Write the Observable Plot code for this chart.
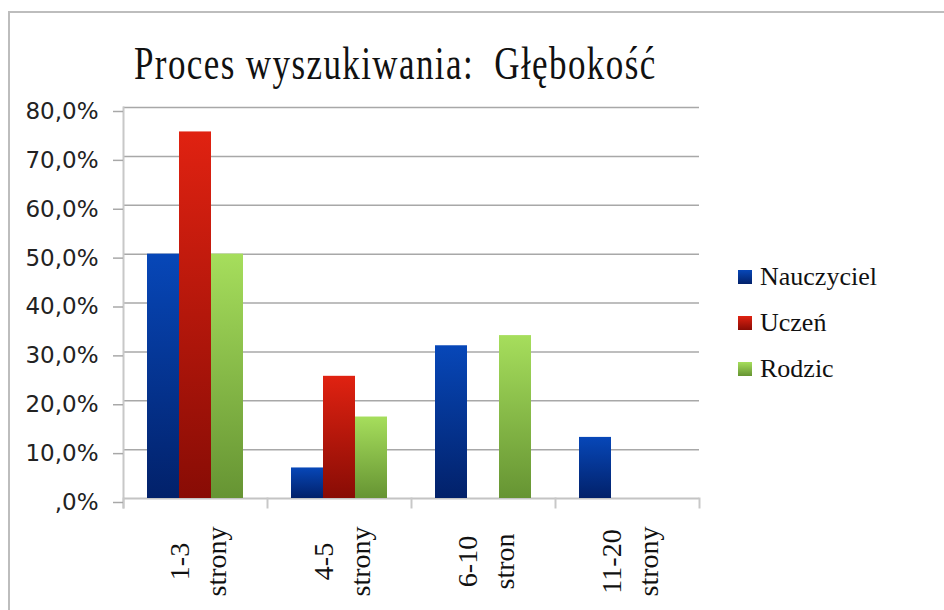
<!DOCTYPE html>
<html><head><meta charset="utf-8">
<script src="https://cdn.jsdelivr.net/npm/d3@7"></script>
<script src="https://cdn.jsdelivr.net/npm/@observablehq/plot@0.6"></script>
<style>
html,body{margin:0;padding:0;background:#fff;}
#wrap{position:relative;width:944px;height:610px;overflow:hidden;background:#fff;}
#frame{position:absolute;left:8px;top:11px;width:1000px;height:700px;border-top:2px solid #bdbdbd;border-left:2px solid #bdbdbd;}
#title{position:absolute;left:134px;top:40px;font-family:"Liberation Serif",serif;font-size:35px;line-height:35px;letter-spacing:1.4px;white-space:pre;color:#111;transform:scaleY(1.33);transform-origin:0 0;}
#chart{position:absolute;left:0;top:0;}
#legend{position:absolute;left:738px;top:254px;font-family:"Liberation Serif",serif;font-size:26px;color:#111;}
.item{display:flex;align-items:center;height:46px;}
.sw{width:14px;height:14px;margin-right:8px;}
</style>
</head><body>
<div id="wrap">
  <div id="frame"></div>
  <div id="title"></div>
  <div id="chart"></div>
  <div id="legend"></div>
</div>
<script>
const title = "Proces wyszukiwania:  Głębokość";
const categories = ["1-3 strony", "4-5 strony", "6-10 stron", "11-20 strony"];
const series = ["Nauczyciel", "Uczeń", "Rodzic"];
const nauczyciel = [50, 6.25, 31.25, 12.5];
const uczen = [75, 25, 0, 0];
const rodzic = [50, 16.67, 33.33, 0];
const yTicks = [0, 10, 20, 30, 40, 50, 60, 70, 80];

const gradients = [
  {id: "g-blue", top: "#0747b8", bottom: "#02216a"},
  {id: "g-red", top: "#e02211", bottom: "#880c05"},
  {id: "g-green", top: "#a6de5c", bottom: "#669433"}
];

const valuesBySeries = [nauczyciel, uczen, rodzic];
const rows = [];
series.forEach((s, i) => categories.forEach((c, j) => rows.push({category: c, series: s, value: valuesBySeries[i][j]})));

const fmt = d => (d === 0 ? "," + "0" : d.toFixed(1).replace(".", ",")) + "%";

document.getElementById("title").textContent = title;

const plot = Plot.plot({
  width: 944,
  height: 610,
  marginTop: 107,
  marginBottom: 112,
  marginLeft: 122,
  marginRight: 244,
  style: {background: "transparent", overflow: "visible"},
  fx: {domain: categories, padding: 0, axis: null},
  x: {type: "band", domain: series, paddingInner: 0, paddingOuter: 0.73, axis: null},
  y: {domain: [0, 80], axis: null},
  color: {type: "ordinal", domain: series, range: gradients.map(g => `url(#${g.id})`)},
  marks: [
    Plot.ruleY(yTicks.filter(d => d > 0), {y: d => d, stroke: "#a8a8a8", strokeWidth: 1.5}),
    Plot.ruleY([0], {y: d => d, stroke: "#c4c4c4", strokeWidth: 2}),
    Plot.frame({anchor: "left", facetAnchor: "left", stroke: "#c8c8c8", strokeWidth: 2, insetBottom: -9}),
    Plot.frame({anchor: "left", stroke: "#c8c8c8", strokeWidth: 2, insetTop: 391, insetBottom: -9}),
    Plot.frame({anchor: "right", facetAnchor: "right", stroke: "#c8c8c8", strokeWidth: 2, insetTop: 391, insetBottom: -9}),
    Plot.barY(rows, {fx: "category", x: "series", y: "value", fill: "series"}),
    Plot.axisY(yTicks, {anchor: "left", label: null, tickSize: 10, tickPadding: 15, tickFormat: fmt, stroke: "#a8a8a8", strokeWidth: 1.5, fill: "#222", fontSize: 23, fontFamily: "DejaVu Sans", dy: 4}),
    Plot.text(categories, {fx: d => d, text: d => d.replace(" ", "\n"), frameAnchor: "bottom", rotate: -90, textAnchor: "middle", lineAnchor: "middle", lineHeight: 1.35, dy: 63, fontSize: 28, fontFamily: "Liberation Serif", fill: "#111"})
  ]
});

const ns = "http://www.w3.org/2000/svg";
const defs = document.createElementNS(ns, "defs");
gradients.forEach(g => {
  const lg = document.createElementNS(ns, "linearGradient");
  lg.setAttribute("id", g.id);
  lg.setAttribute("x1", "0"); lg.setAttribute("y1", "0");
  lg.setAttribute("x2", "0"); lg.setAttribute("y2", "1");
  [[0, g.top], [1, g.bottom]].forEach(([o, c]) => {
    const st = document.createElementNS(ns, "stop");
    st.setAttribute("offset", o);
    st.setAttribute("stop-color", c);
    lg.appendChild(st);
  });
  defs.appendChild(lg);
});
plot.insertBefore(defs, plot.firstChild);
document.getElementById("chart").appendChild(plot);

const legend = document.getElementById("legend");
series.forEach((s, i) => {
  const item = document.createElement("div");
  item.className = "item";
  const sw = document.createElement("div");
  sw.className = "sw";
  sw.style.background = `linear-gradient(${gradients[i].top}, ${gradients[i].bottom})`;
  const label = document.createElement("span");
  label.textContent = s;
  item.appendChild(sw);
  item.appendChild(label);
  legend.appendChild(item);
});
</script>
</body></html>
